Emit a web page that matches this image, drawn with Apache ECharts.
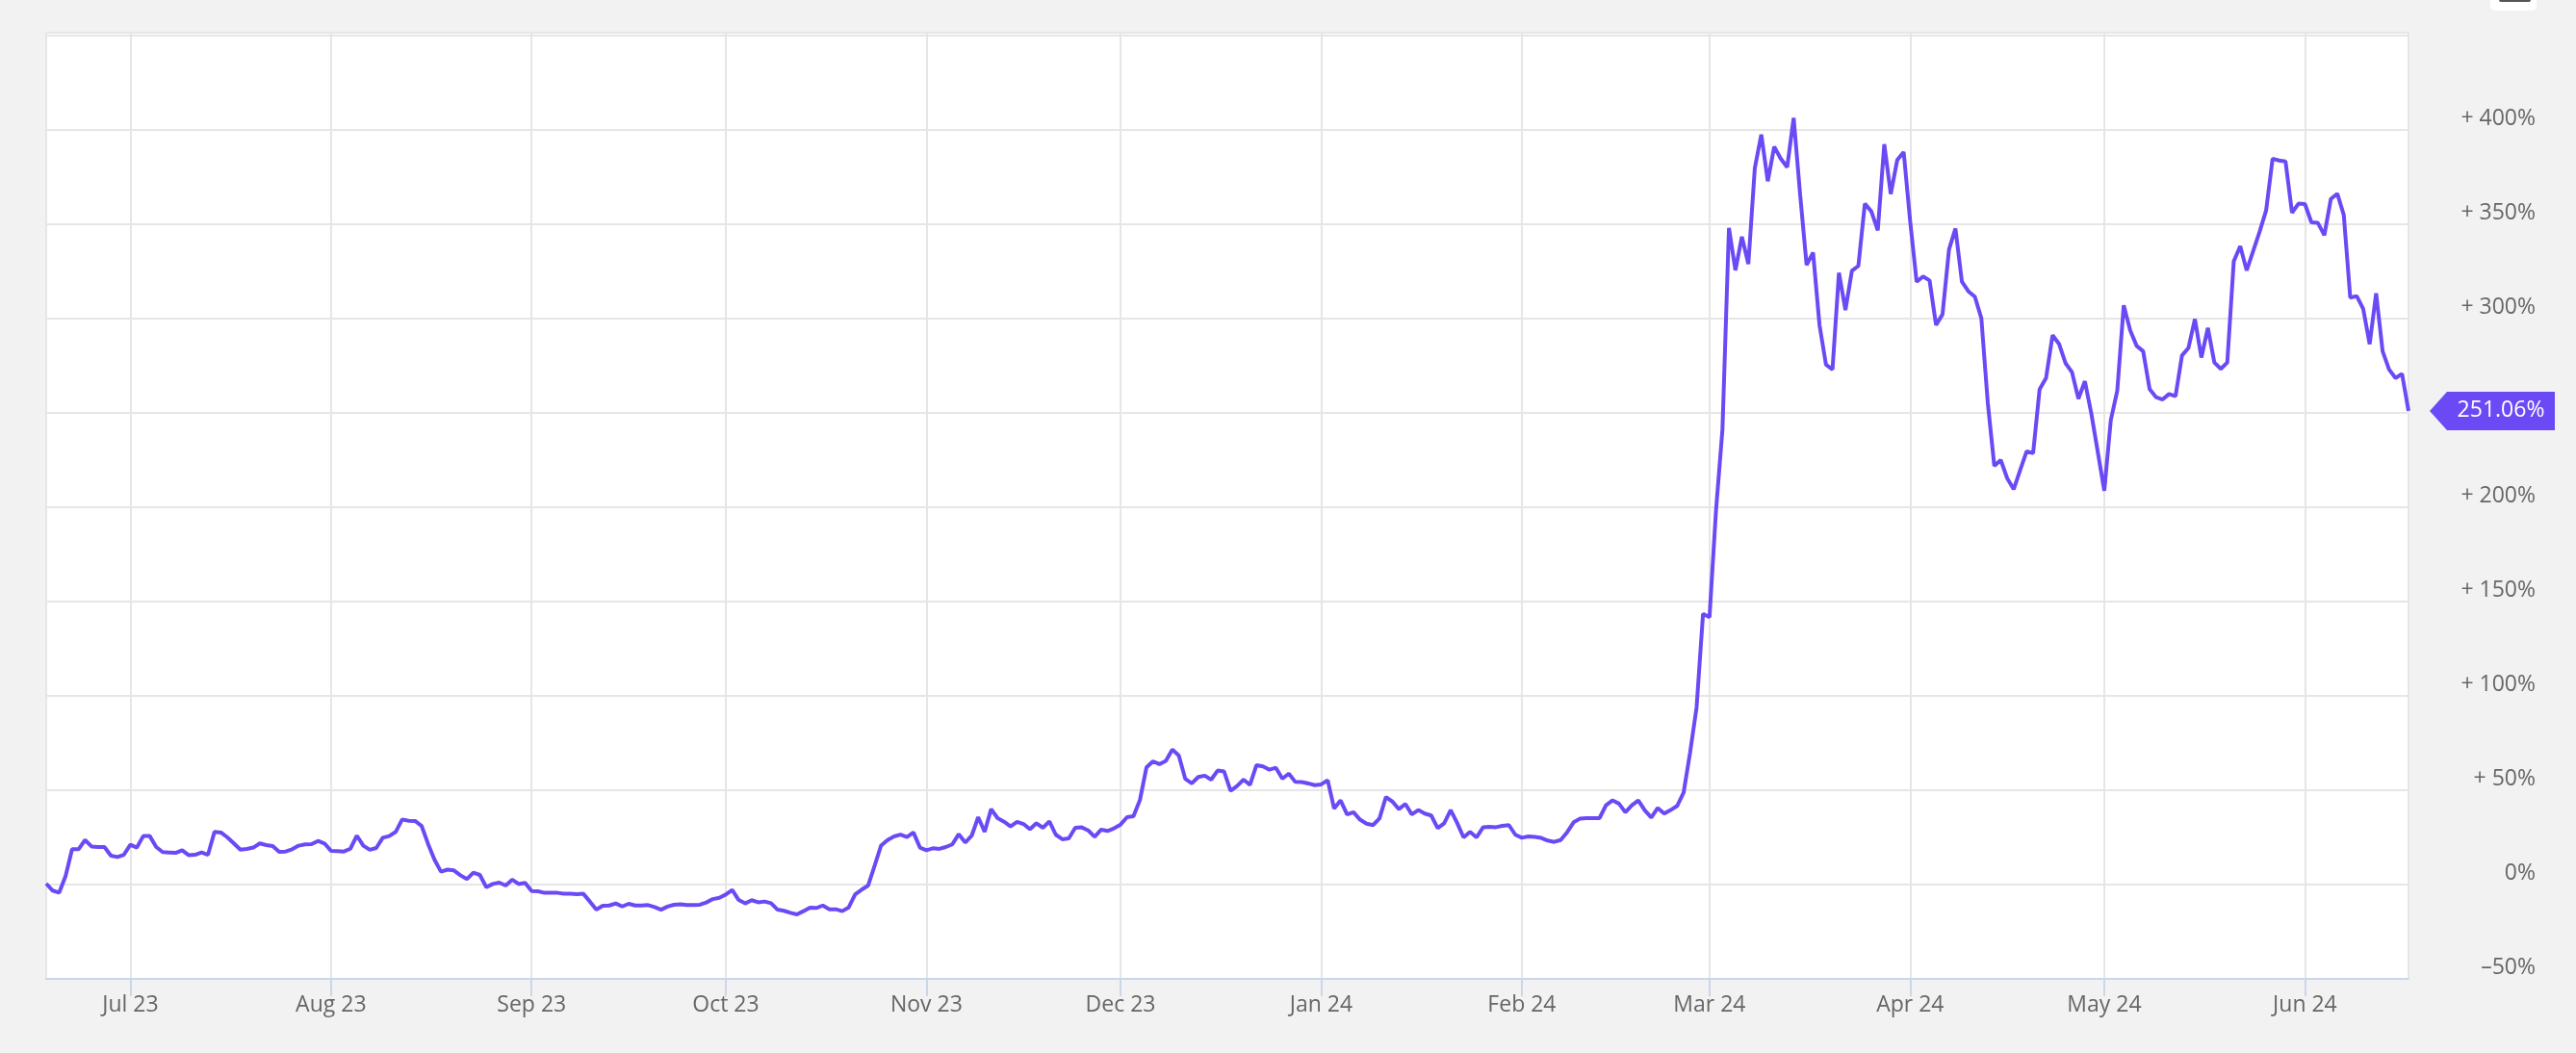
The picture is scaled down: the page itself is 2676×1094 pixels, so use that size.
<!DOCTYPE html>
<html>
<head>
<meta charset="utf-8">
<script src="https://cdn.jsdelivr.net/npm/echarts@6/dist/echarts.min.js"></script>
<style>
html,body{margin:0;padding:0;background:#f2f2f3;}
#chart{width:2676px;height:1094px;}
</style>
</head>
<body>
<div id="chart"></div>
<script>
// First data day (year, month index, day); one value per day after it
const startDay = [2023, 5, 18];
const values = [
0.5,-3.2,-4.3,4.6,18.7,18.7,23.6,20.2,19.9,19.9,
15.3,14.6,15.8,21.1,19.6,25.7,25.7,19.9,17.2,17.0,
16.8,18.2,15.6,15.8,17.0,15.8,27.9,27.6,25.0,21.8,
18.5,18.9,19.6,21.8,20.9,20.4,17.3,17.5,18.7,20.6,
21.3,21.4,23.1,21.8,17.9,17.7,17.5,19.0,25.9,20.6,
18.4,19.4,24.8,25.7,27.9,34.5,33.8,33.7,31.1,21.6,
13.1,6.8,7.9,7.5,4.9,2.9,6.3,5.1,-1.4,0.3,
1.0,-0.5,2.6,0.3,0.9,-3.4,-3.6,-4.4,-4.4,-4.4,
-4.9,-4.9,-5.1,-4.9,-9.0,-13.3,-11.2,-11.1,-10.0,-11.6,
-10.2,-11.1,-11.1,-10.9,-11.9,-13.3,-11.7,-10.7,-10.5,-10.9,
-10.9,-10.7,-9.5,-7.7,-7.0,-5.3,-2.9,-8.2,-10.0,-8.3,
-9.4,-9.0,-9.9,-13.3,-13.9,-15.0,-15.8,-14.1,-12.2,-12.4,
-11.1,-13.1,-13.1,-14.1,-12.1,-5.2,-2.7,-0.5,10.0,20.7,
23.6,25.5,26.5,25.2,27.6,19.6,18.2,19.2,18.9,19.9,
21.3,26.7,22.3,25.9,35.7,27.9,40.0,35.2,33.3,30.8,
33.2,32.1,29.3,32.5,30.1,33.5,26.4,24.0,24.5,30.1,
30.3,28.7,25.3,29.1,28.4,29.8,31.8,35.7,36.2,44.9,
62.1,65.3,63.8,65.6,71.6,68.4,56.0,53.6,57.0,57.7,
55.6,60.4,59.9,49.7,52.2,55.6,52.9,63.3,62.6,60.9,
61.9,56.1,58.8,54.4,54.3,53.6,52.7,53.1,55.3,40.3,
44.6,37.2,38.3,34.4,32.3,31.5,35.0,46.4,44.0,40.0,
42.7,37.2,39.5,37.6,36.6,29.9,32.5,39.5,32.7,25.0,
27.9,25.0,30.3,30.6,30.4,31.1,31.5,26.4,24.8,25.5,
25.2,24.7,23.3,22.6,23.6,27.7,33.0,34.9,35.2,35.2,
35.2,42.0,44.6,42.9,38.3,42.0,44.6,39.3,35.5,40.6,
37.6,39.5,41.7,48.8,70.0,93.9,143.5,141.7,198.1,241.3,
348.0,325.6,343.4,328.9,379.7,397.5,372.8,391.1,384.8,380.2,
406.4,365.7,328.4,335.0,296.4,275.5,273.0,324.3,304.5,325.3,
327.9,360.9,356.8,346.7,392.4,366.0,384.0,388.3,351.7,319.5,
322.3,320.2,296.6,302.2,336.5,347.7,319.5,314.4,311.6,300.2,
255.2,221.9,225.0,215.3,209.5,219.7,229.6,228.6,262.5,268.5,
291.2,286.6,276.4,271.6,257.5,266.8,249.5,229.1,208.7,246.1,
261.7,307.0,293.7,285.5,282.7,262.6,258.3,257.1,260.0,258.8,
280.4,284.4,299.7,279.3,295.1,276.7,273.3,276.7,330.3,338.4,
325.5,335.7,346.1,357.3,384.7,383.8,383.3,356.1,360.9,360.7,
351.0,350.7,344.2,363.4,366.2,354.9,311.1,311.9,305.1,286.4,
313.4,282.7,273.0,268.5,270.7,251.06
];
const monthNames = ['Jan','Feb','Mar','Apr','May','Jun','Jul','Aug','Sep','Oct','Nov','Dec'];
const yMin = -50, yMax = 451.5, yStep = 50, yLabelTop = 400;

const seriesData = values.map((v, i) =>
  [new Date(startDay[0], startDay[1], startDay[2] + i).getTime(), v]);
const last = seriesData[seriesData.length - 1];

const FONT = '"Open Sans", "DejaVu Sans", sans-serif';
const DAY = 86400000;
const chart = echarts.init(document.getElementById('chart'), null, {renderer: 'canvas'});
chart.setOption({
  animation: false,
  backgroundColor: '#f2f2f3',
  grid: {left: 48, top: 34, right: 174, bottom: 77, show: true, backgroundColor: '#ffffff', borderWidth: 0},
  xAxis: {
    type: 'time',
    min: 'dataMin', max: 'dataMax',
    splitNumber: 12,
    minInterval: 28 * DAY,
    maxInterval: 31 * DAY,
    axisLine: {show: true, onZero: false, lineStyle: {color: '#ccd6eb', width: 2}},
    axisTick: {show: true, length: 18, lineStyle: {color: '#ccd6eb', width: 2}},
    splitLine: {show: true, lineStyle: {color: '#e6e6e6', width: 2}},
    axisLabel: {
      color: '#666666', fontFamily: FONT, fontSize: 23, margin: 16,
      formatter: function (v) {
        const d = new Date(v);
        return monthNames[d.getMonth()] + ' ' + String(d.getFullYear()).slice(2);
      }
    }
  },
  yAxis: {
    type: 'value', position: 'right',
    min: yMin, max: yMax, interval: yStep,
    axisLine: {show: false}, axisTick: {show: false},
    splitLine: {show: true, lineStyle: {color: '#e6e6e6', width: 2}},
    axisLabel: {
      color: '#666666', fontFamily: FONT, fontSize: 23,
      align: 'right', margin: 132, verticalAlign: 'bottom',
      formatter: function (v) {
        if (v % yStep !== 0 || v > yLabelTop) return '';
        if (v > 0) return '+ ' + v + '%';
        if (v === 0) return '0%';
        return '\u2013' + Math.abs(v) + '%';
      }
    }
  },
  series: [{
    type: 'line',
    data: seriesData,
    showSymbol: false,
    symbol: 'none',
    lineStyle: {color: '#6b4af6', width: 4},
    itemStyle: {color: '#6b4af6'},
    markPoint: {
      silent: true,
      symbol: 'path://M0,20 L18,0 L130,0 L130,40 L18,40 Z',
      symbolSize: [130, 40],
      symbolKeepAspect: false,
      symbolOffset: [87, 0],
      itemStyle: {color: '#6b4af6'},
      label: {
        show: true, position: 'inside', offset: [9, 0],
        color: '#ffffff', fontFamily: FONT, fontSize: 23,
        formatter: function (p) { return p.value.toFixed(2) + '%'; }
      },
      data: [{coord: last, value: last[1]}]
    }
  }],
  graphic: [
    {type: 'rect', shape: {x: 2587, y: -20, width: 48, height: 31, r: 5}, style: {fill: '#ffffff'}},
    {type: 'rect', shape: {x: 2596, y: -3, width: 33, height: 5, r: 2}, style: {fill: '#555555'}}
  ]
});
</script>
</body>
</html>
